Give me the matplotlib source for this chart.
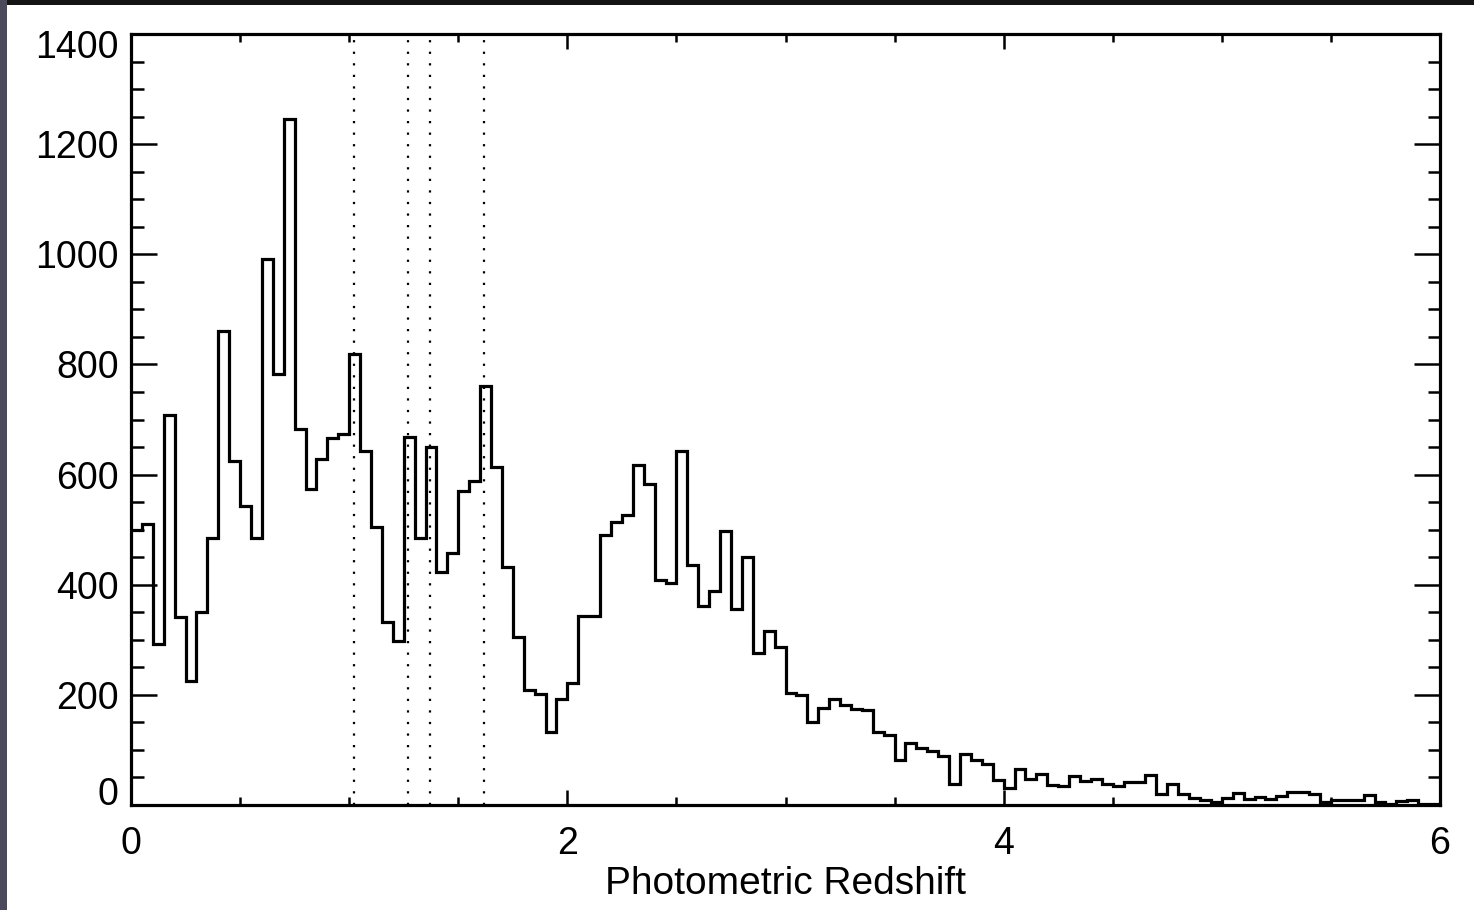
import numpy as np
import matplotlib
matplotlib.use('Agg')
import matplotlib.pyplot as plt
from matplotlib.patches import Rectangle
from matplotlib.ticker import MultipleLocator
from matplotlib.transforms import ScaledTranslation

# 直方圖資料 (bin 寬 0.05, 0 ~ 6)
bin_width = 0.05
z_min = 0.0
z_max = 6.0
counts = [
    500, 511, 293, 708, 341, 225, 351, 485, 861, 625,
    543, 485, 992, 783, 1245, 683, 574, 628, 667, 674,
    819, 643, 505, 332, 297, 669, 485, 650, 423, 457,
    570, 589, 760, 613, 433, 305, 209, 201, 132, 192,
    221, 343, 343, 491, 513, 527, 618, 583, 409, 404,
    642, 435, 362, 389, 498, 356, 450, 276, 316, 286,
    204, 200, 150, 177, 193, 182, 174, 172, 133, 127,
    82, 113, 104, 98, 89, 39, 92, 82, 74, 45,
    31, 65, 47, 56, 36, 35, 53, 44, 48, 39,
    35, 42, 42, 55, 20, 38, 20, 12, 9, 6,
    12, 21, 10, 14, 10, 16, 24, 24, 20, 6,
    9, 9, 9, 18, 6, 2, 7, 9, 2, 1,
]
marker_z = [1.02, 1.27, 1.37, 1.62]

x_ticks = [0, 2, 4, 6]
y_ticks = [0, 200, 400, 600, 800, 1000, 1200, 1400]


def setup_font():
    """設置字體"""
    plt.rcParams['font.family'] = ['Liberation Sans', 'DejaVu Sans']


def draw_border(fig):
    """畫出截圖的深色邊框"""
    fig.patches.append(Rectangle((0, 1 - 5 / 910), 1, 5 / 910, transform=fig.transFigure,
                                 facecolor='#141414', edgecolor='none', zorder=10))
    fig.patches.append(Rectangle((0, 0), 7 / 1474, 1, transform=fig.transFigure,
                                 facecolor='#4a4a5c', edgecolor='none', zorder=10))


def main():
    setup_font()

    edges = np.arange(len(counts) + 1) * bin_width + z_min

    fig = plt.figure(figsize=(14.74, 9.10), dpi=100)
    ax = fig.add_axes([131 / 1474, 105 / 910, 1309 / 1474, 771 / 910])

    # 直方圖
    ax.stairs(counts, edges, baseline=None, color='black', linewidth=2.3)

    # 虛線標記
    for z in marker_z:
        ax.axvline(z, color='black', linewidth=1.6, linestyle=(0, (1, 4.2)))

    ax.set_xlim(z_min, z_max)
    ax.set_ylim(0, 1400)
    ax.set_xticks(x_ticks)
    ax.set_yticks(y_ticks)
    ax.xaxis.set_minor_locator(MultipleLocator(0.5))
    ax.yaxis.set_minor_locator(MultipleLocator(50))

    ax.tick_params(which='both', direction='in', top=True, right=True,
                   width=1.8, colors='black', labelsize=27)
    ax.tick_params(axis='x', which='major', length=11, pad=15)
    ax.tick_params(axis='x', which='minor', length=5.5)
    ax.tick_params(axis='y', which='major', length=18.5, pad=9)
    ax.tick_params(axis='y', which='minor', length=9)

    # 端點標籤往內收
    ylabels = ax.get_yticklabels()
    ylabels[0].set_va('baseline')
    ylabels[-1].set_va('top')
    ylabels[-1].set_transform(ylabels[-1].get_transform()
                              + ScaledTranslation(0, 4 / 100, fig.dpi_scale_trans))

    for spine in ax.spines.values():
        spine.set_linewidth(2.3)

    ax.set_xlabel('Photometric Redshift', fontsize=28, labelpad=3)

    draw_border(fig)

    fig.savefig('out.png', dpi=100, facecolor='white')


if __name__ == "__main__":
    main()
